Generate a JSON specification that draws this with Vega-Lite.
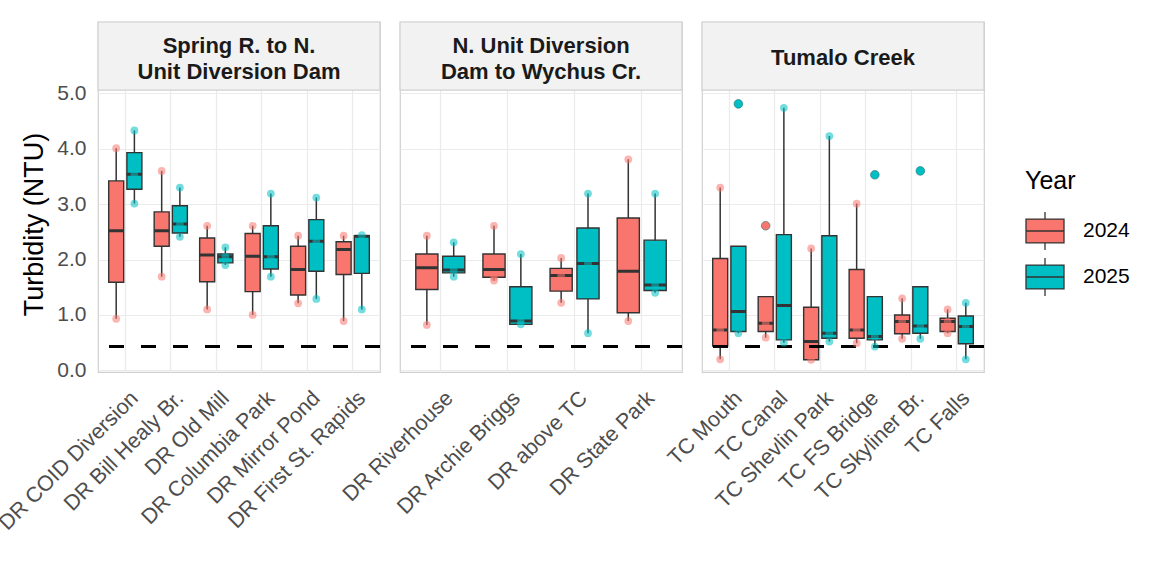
{
  "$schema": "https://vega.github.io/schema/vega-lite/v6.json",
  "padding": {"left": -6, "top": 20, "right": 5, "bottom": 5},
  "background": "white",
  "bounds": "flush",
  "data": {"values": [
    {"t":"box","Reach":"Spring R. to N.\nUnit Diversion Dam","Site":"DR COID Diversion","Year":"2024","lo":0.93,"q1":1.59,"med":2.52,"q3":3.42,"hi":4.01},
    {"t":"box","Reach":"Spring R. to N.\nUnit Diversion Dam","Site":"DR COID Diversion","Year":"2025","lo":3.01,"q1":3.27,"med":3.54,"q3":3.93,"hi":4.33},
    {"t":"box","Reach":"Spring R. to N.\nUnit Diversion Dam","Site":"DR Bill Healy Br.","Year":"2024","lo":1.69,"q1":2.24,"med":2.52,"q3":2.86,"hi":3.60},
    {"t":"box","Reach":"Spring R. to N.\nUnit Diversion Dam","Site":"DR Bill Healy Br.","Year":"2025","lo":2.41,"q1":2.48,"med":2.64,"q3":2.97,"hi":3.30},
    {"t":"box","Reach":"Spring R. to N.\nUnit Diversion Dam","Site":"DR Old Mill","Year":"2024","lo":1.10,"q1":1.60,"med":2.08,"q3":2.39,"hi":2.61},
    {"t":"box","Reach":"Spring R. to N.\nUnit Diversion Dam","Site":"DR Old Mill","Year":"2025","lo":1.90,"q1":1.94,"med":2.05,"q3":2.10,"hi":2.22},
    {"t":"box","Reach":"Spring R. to N.\nUnit Diversion Dam","Site":"DR Columbia Park","Year":"2024","lo":1.00,"q1":1.42,"med":2.06,"q3":2.47,"hi":2.61},
    {"t":"box","Reach":"Spring R. to N.\nUnit Diversion Dam","Site":"DR Columbia Park","Year":"2025","lo":1.69,"q1":1.83,"med":2.05,"q3":2.61,"hi":3.19},
    {"t":"box","Reach":"Spring R. to N.\nUnit Diversion Dam","Site":"DR Mirror Pond","Year":"2024","lo":1.21,"q1":1.36,"med":1.82,"q3":2.24,"hi":2.43},
    {"t":"box","Reach":"Spring R. to N.\nUnit Diversion Dam","Site":"DR Mirror Pond","Year":"2025","lo":1.29,"q1":1.79,"med":2.33,"q3":2.72,"hi":3.12},
    {"t":"box","Reach":"Spring R. to N.\nUnit Diversion Dam","Site":"DR First St. Rapids","Year":"2024","lo":0.89,"q1":1.73,"med":2.18,"q3":2.32,"hi":2.43},
    {"t":"box","Reach":"Spring R. to N.\nUnit Diversion Dam","Site":"DR First St. Rapids","Year":"2025","lo":1.10,"q1":1.75,"med":2.42,"q3":2.43,"hi":2.44},
    {"t":"box","Reach":"N. Unit Diversion\nDam to Wychus Cr.","Site":"DR Riverhouse","Year":"2024","lo":0.82,"q1":1.46,"med":1.85,"q3":2.10,"hi":2.43},
    {"t":"box","Reach":"N. Unit Diversion\nDam to Wychus Cr.","Site":"DR Riverhouse","Year":"2025","lo":1.69,"q1":1.76,"med":1.81,"q3":2.06,"hi":2.31},
    {"t":"box","Reach":"N. Unit Diversion\nDam to Wychus Cr.","Site":"DR Archie Briggs","Year":"2024","lo":1.62,"q1":1.68,"med":1.82,"q3":2.10,"hi":2.61},
    {"t":"box","Reach":"N. Unit Diversion\nDam to Wychus Cr.","Site":"DR Archie Briggs","Year":"2025","lo":0.83,"q1":0.83,"med":0.89,"q3":1.51,"hi":2.10},
    {"t":"box","Reach":"N. Unit Diversion\nDam to Wychus Cr.","Site":"DR above TC","Year":"2024","lo":1.22,"q1":1.43,"med":1.71,"q3":1.84,"hi":2.03},
    {"t":"box","Reach":"N. Unit Diversion\nDam to Wychus Cr.","Site":"DR above TC","Year":"2025","lo":0.67,"q1":1.29,"med":1.93,"q3":2.57,"hi":3.19},
    {"t":"box","Reach":"N. Unit Diversion\nDam to Wychus Cr.","Site":"DR State Park","Year":"2024","lo":0.89,"q1":1.04,"med":1.79,"q3":2.75,"hi":3.81},
    {"t":"box","Reach":"N. Unit Diversion\nDam to Wychus Cr.","Site":"DR State Park","Year":"2025","lo":1.40,"q1":1.44,"med":1.54,"q3":2.35,"hi":3.19},
    {"t":"box","Reach":"Tumalo Creek","Site":"TC Mouth","Year":"2024","lo":0.20,"q1":0.44,"med":0.73,"q3":2.02,"hi":3.30},
    {"t":"box","Reach":"Tumalo Creek","Site":"TC Mouth","Year":"2025","lo":0.67,"q1":0.70,"med":1.06,"q3":2.24,"hi":2.24},
    {"t":"box","Reach":"Tumalo Creek","Site":"TC Canal","Year":"2024","lo":0.59,"q1":0.70,"med":0.85,"q3":1.33,"hi":1.33},
    {"t":"box","Reach":"Tumalo Creek","Site":"TC Canal","Year":"2025","lo":0.50,"q1":0.55,"med":1.17,"q3":2.45,"hi":4.74},
    {"t":"box","Reach":"Tumalo Creek","Site":"TC Shevlin Park","Year":"2024","lo":0.19,"q1":0.19,"med":0.52,"q3":1.14,"hi":2.20},
    {"t":"box","Reach":"Tumalo Creek","Site":"TC Shevlin Park","Year":"2025","lo":0.52,"q1":0.58,"med":0.67,"q3":2.43,"hi":4.23},
    {"t":"box","Reach":"Tumalo Creek","Site":"TC FS Bridge","Year":"2024","lo":0.49,"q1":0.58,"med":0.73,"q3":1.82,"hi":3.01},
    {"t":"box","Reach":"Tumalo Creek","Site":"TC FS Bridge","Year":"2025","lo":0.43,"q1":0.55,"med":0.61,"q3":1.33,"hi":1.33},
    {"t":"box","Reach":"Tumalo Creek","Site":"TC Skyliner Br.","Year":"2024","lo":0.57,"q1":0.66,"med":0.88,"q3":1.00,"hi":1.30},
    {"t":"box","Reach":"Tumalo Creek","Site":"TC Skyliner Br.","Year":"2025","lo":0.57,"q1":0.67,"med":0.80,"q3":1.51,"hi":1.51},
    {"t":"box","Reach":"Tumalo Creek","Site":"TC Falls","Year":"2024","lo":0.67,"q1":0.70,"med":0.88,"q3":0.94,"hi":1.10},
    {"t":"box","Reach":"Tumalo Creek","Site":"TC Falls","Year":"2025","lo":0.20,"q1":0.48,"med":0.79,"q3":0.98,"hi":1.22},

    {"t":"pt","Reach":"Spring R. to N.\nUnit Diversion Dam","Site":"DR COID Diversion","Year":"2024","Turbidity":4.01,"out":0},
    {"t":"pt","Reach":"Spring R. to N.\nUnit Diversion Dam","Site":"DR COID Diversion","Year":"2024","Turbidity":0.93,"out":0},
    {"t":"pt","Reach":"Spring R. to N.\nUnit Diversion Dam","Site":"DR COID Diversion","Year":"2025","Turbidity":4.33,"out":0},
    {"t":"pt","Reach":"Spring R. to N.\nUnit Diversion Dam","Site":"DR COID Diversion","Year":"2025","Turbidity":3.01,"out":0},
    {"t":"pt","Reach":"Spring R. to N.\nUnit Diversion Dam","Site":"DR COID Diversion","Year":"2025","Turbidity":3.54,"out":0},
    {"t":"pt","Reach":"Spring R. to N.\nUnit Diversion Dam","Site":"DR Bill Healy Br.","Year":"2024","Turbidity":3.60,"out":0},
    {"t":"pt","Reach":"Spring R. to N.\nUnit Diversion Dam","Site":"DR Bill Healy Br.","Year":"2024","Turbidity":1.69,"out":0},
    {"t":"pt","Reach":"Spring R. to N.\nUnit Diversion Dam","Site":"DR Bill Healy Br.","Year":"2025","Turbidity":3.30,"out":0},
    {"t":"pt","Reach":"Spring R. to N.\nUnit Diversion Dam","Site":"DR Bill Healy Br.","Year":"2025","Turbidity":2.41,"out":0},
    {"t":"pt","Reach":"Spring R. to N.\nUnit Diversion Dam","Site":"DR Bill Healy Br.","Year":"2025","Turbidity":2.64,"out":0},
    {"t":"pt","Reach":"Spring R. to N.\nUnit Diversion Dam","Site":"DR Old Mill","Year":"2024","Turbidity":2.61,"out":0},
    {"t":"pt","Reach":"Spring R. to N.\nUnit Diversion Dam","Site":"DR Old Mill","Year":"2024","Turbidity":1.10,"out":0},
    {"t":"pt","Reach":"Spring R. to N.\nUnit Diversion Dam","Site":"DR Old Mill","Year":"2025","Turbidity":2.22,"out":0},
    {"t":"pt","Reach":"Spring R. to N.\nUnit Diversion Dam","Site":"DR Old Mill","Year":"2025","Turbidity":1.90,"out":0},
    {"t":"pt","Reach":"Spring R. to N.\nUnit Diversion Dam","Site":"DR Old Mill","Year":"2025","Turbidity":2.05,"out":0},
    {"t":"pt","Reach":"Spring R. to N.\nUnit Diversion Dam","Site":"DR Columbia Park","Year":"2024","Turbidity":2.61,"out":0},
    {"t":"pt","Reach":"Spring R. to N.\nUnit Diversion Dam","Site":"DR Columbia Park","Year":"2024","Turbidity":1.00,"out":0},
    {"t":"pt","Reach":"Spring R. to N.\nUnit Diversion Dam","Site":"DR Columbia Park","Year":"2025","Turbidity":3.19,"out":0},
    {"t":"pt","Reach":"Spring R. to N.\nUnit Diversion Dam","Site":"DR Columbia Park","Year":"2025","Turbidity":1.69,"out":0},
    {"t":"pt","Reach":"Spring R. to N.\nUnit Diversion Dam","Site":"DR Columbia Park","Year":"2025","Turbidity":2.05,"out":0},
    {"t":"pt","Reach":"Spring R. to N.\nUnit Diversion Dam","Site":"DR Mirror Pond","Year":"2024","Turbidity":2.43,"out":0},
    {"t":"pt","Reach":"Spring R. to N.\nUnit Diversion Dam","Site":"DR Mirror Pond","Year":"2024","Turbidity":1.21,"out":0},
    {"t":"pt","Reach":"Spring R. to N.\nUnit Diversion Dam","Site":"DR Mirror Pond","Year":"2025","Turbidity":3.12,"out":0},
    {"t":"pt","Reach":"Spring R. to N.\nUnit Diversion Dam","Site":"DR Mirror Pond","Year":"2025","Turbidity":1.29,"out":0},
    {"t":"pt","Reach":"Spring R. to N.\nUnit Diversion Dam","Site":"DR Mirror Pond","Year":"2025","Turbidity":2.33,"out":0},
    {"t":"pt","Reach":"Spring R. to N.\nUnit Diversion Dam","Site":"DR First St. Rapids","Year":"2024","Turbidity":2.43,"out":0},
    {"t":"pt","Reach":"Spring R. to N.\nUnit Diversion Dam","Site":"DR First St. Rapids","Year":"2024","Turbidity":0.89,"out":0},
    {"t":"pt","Reach":"Spring R. to N.\nUnit Diversion Dam","Site":"DR First St. Rapids","Year":"2025","Turbidity":2.44,"out":0},
    {"t":"pt","Reach":"Spring R. to N.\nUnit Diversion Dam","Site":"DR First St. Rapids","Year":"2025","Turbidity":1.10,"out":0},
    {"t":"pt","Reach":"N. Unit Diversion\nDam to Wychus Cr.","Site":"DR Riverhouse","Year":"2024","Turbidity":2.43,"out":0},
    {"t":"pt","Reach":"N. Unit Diversion\nDam to Wychus Cr.","Site":"DR Riverhouse","Year":"2024","Turbidity":0.82,"out":0},
    {"t":"pt","Reach":"N. Unit Diversion\nDam to Wychus Cr.","Site":"DR Riverhouse","Year":"2025","Turbidity":2.31,"out":0},
    {"t":"pt","Reach":"N. Unit Diversion\nDam to Wychus Cr.","Site":"DR Riverhouse","Year":"2025","Turbidity":1.69,"out":0},
    {"t":"pt","Reach":"N. Unit Diversion\nDam to Wychus Cr.","Site":"DR Riverhouse","Year":"2025","Turbidity":1.81,"out":0},
    {"t":"pt","Reach":"N. Unit Diversion\nDam to Wychus Cr.","Site":"DR Archie Briggs","Year":"2024","Turbidity":2.61,"out":0},
    {"t":"pt","Reach":"N. Unit Diversion\nDam to Wychus Cr.","Site":"DR Archie Briggs","Year":"2024","Turbidity":1.62,"out":0},
    {"t":"pt","Reach":"N. Unit Diversion\nDam to Wychus Cr.","Site":"DR Archie Briggs","Year":"2024","Turbidity":1.68,"out":0},
    {"t":"pt","Reach":"N. Unit Diversion\nDam to Wychus Cr.","Site":"DR Archie Briggs","Year":"2025","Turbidity":2.10,"out":0},
    {"t":"pt","Reach":"N. Unit Diversion\nDam to Wychus Cr.","Site":"DR Archie Briggs","Year":"2025","Turbidity":0.83,"out":0},
    {"t":"pt","Reach":"N. Unit Diversion\nDam to Wychus Cr.","Site":"DR Archie Briggs","Year":"2025","Turbidity":0.89,"out":0},
    {"t":"pt","Reach":"N. Unit Diversion\nDam to Wychus Cr.","Site":"DR above TC","Year":"2024","Turbidity":2.03,"out":0},
    {"t":"pt","Reach":"N. Unit Diversion\nDam to Wychus Cr.","Site":"DR above TC","Year":"2024","Turbidity":1.22,"out":0},
    {"t":"pt","Reach":"N. Unit Diversion\nDam to Wychus Cr.","Site":"DR above TC","Year":"2024","Turbidity":1.71,"out":0},
    {"t":"pt","Reach":"N. Unit Diversion\nDam to Wychus Cr.","Site":"DR above TC","Year":"2025","Turbidity":3.19,"out":0},
    {"t":"pt","Reach":"N. Unit Diversion\nDam to Wychus Cr.","Site":"DR above TC","Year":"2025","Turbidity":0.67,"out":0},
    {"t":"pt","Reach":"N. Unit Diversion\nDam to Wychus Cr.","Site":"DR above TC","Year":"2025","Turbidity":1.93,"out":0},
    {"t":"pt","Reach":"N. Unit Diversion\nDam to Wychus Cr.","Site":"DR State Park","Year":"2024","Turbidity":3.81,"out":0},
    {"t":"pt","Reach":"N. Unit Diversion\nDam to Wychus Cr.","Site":"DR State Park","Year":"2024","Turbidity":0.89,"out":0},
    {"t":"pt","Reach":"N. Unit Diversion\nDam to Wychus Cr.","Site":"DR State Park","Year":"2025","Turbidity":3.19,"out":0},
    {"t":"pt","Reach":"N. Unit Diversion\nDam to Wychus Cr.","Site":"DR State Park","Year":"2025","Turbidity":1.40,"out":0},
    {"t":"pt","Reach":"N. Unit Diversion\nDam to Wychus Cr.","Site":"DR State Park","Year":"2025","Turbidity":1.54,"out":0},
    {"t":"pt","Reach":"Tumalo Creek","Site":"TC Mouth","Year":"2024","Turbidity":3.30,"out":0},
    {"t":"pt","Reach":"Tumalo Creek","Site":"TC Mouth","Year":"2024","Turbidity":0.20,"out":0},
    {"t":"pt","Reach":"Tumalo Creek","Site":"TC Mouth","Year":"2024","Turbidity":0.73,"out":0},
    {"t":"pt","Reach":"Tumalo Creek","Site":"TC Mouth","Year":"2025","Turbidity":0.67,"out":0},
    {"t":"pt","Reach":"Tumalo Creek","Site":"TC Mouth","Year":"2025","Turbidity":4.81,"out":1},
    {"t":"pt","Reach":"Tumalo Creek","Site":"TC Canal","Year":"2024","Turbidity":0.59,"out":0},
    {"t":"pt","Reach":"Tumalo Creek","Site":"TC Canal","Year":"2024","Turbidity":0.85,"out":0},
    {"t":"pt","Reach":"Tumalo Creek","Site":"TC Canal","Year":"2024","Turbidity":2.61,"out":1},
    {"t":"pt","Reach":"Tumalo Creek","Site":"TC Canal","Year":"2025","Turbidity":4.74,"out":0},
    {"t":"pt","Reach":"Tumalo Creek","Site":"TC Canal","Year":"2025","Turbidity":0.50,"out":0},
    {"t":"pt","Reach":"Tumalo Creek","Site":"TC Shevlin Park","Year":"2024","Turbidity":2.20,"out":0},
    {"t":"pt","Reach":"Tumalo Creek","Site":"TC Shevlin Park","Year":"2024","Turbidity":0.19,"out":0},
    {"t":"pt","Reach":"Tumalo Creek","Site":"TC Shevlin Park","Year":"2025","Turbidity":4.23,"out":0},
    {"t":"pt","Reach":"Tumalo Creek","Site":"TC Shevlin Park","Year":"2025","Turbidity":0.52,"out":0},
    {"t":"pt","Reach":"Tumalo Creek","Site":"TC Shevlin Park","Year":"2025","Turbidity":0.67,"out":0},
    {"t":"pt","Reach":"Tumalo Creek","Site":"TC FS Bridge","Year":"2024","Turbidity":3.01,"out":0},
    {"t":"pt","Reach":"Tumalo Creek","Site":"TC FS Bridge","Year":"2024","Turbidity":0.49,"out":0},
    {"t":"pt","Reach":"Tumalo Creek","Site":"TC FS Bridge","Year":"2024","Turbidity":0.73,"out":0},
    {"t":"pt","Reach":"Tumalo Creek","Site":"TC FS Bridge","Year":"2025","Turbidity":0.43,"out":0},
    {"t":"pt","Reach":"Tumalo Creek","Site":"TC FS Bridge","Year":"2025","Turbidity":0.61,"out":0},
    {"t":"pt","Reach":"Tumalo Creek","Site":"TC FS Bridge","Year":"2025","Turbidity":3.53,"out":1},
    {"t":"pt","Reach":"Tumalo Creek","Site":"TC Skyliner Br.","Year":"2024","Turbidity":1.30,"out":0},
    {"t":"pt","Reach":"Tumalo Creek","Site":"TC Skyliner Br.","Year":"2024","Turbidity":0.57,"out":0},
    {"t":"pt","Reach":"Tumalo Creek","Site":"TC Skyliner Br.","Year":"2024","Turbidity":0.88,"out":0},
    {"t":"pt","Reach":"Tumalo Creek","Site":"TC Skyliner Br.","Year":"2025","Turbidity":0.57,"out":0},
    {"t":"pt","Reach":"Tumalo Creek","Site":"TC Skyliner Br.","Year":"2025","Turbidity":0.80,"out":0},
    {"t":"pt","Reach":"Tumalo Creek","Site":"TC Skyliner Br.","Year":"2025","Turbidity":3.60,"out":1},
    {"t":"pt","Reach":"Tumalo Creek","Site":"TC Falls","Year":"2024","Turbidity":1.10,"out":0},
    {"t":"pt","Reach":"Tumalo Creek","Site":"TC Falls","Year":"2024","Turbidity":0.67,"out":0},
    {"t":"pt","Reach":"Tumalo Creek","Site":"TC Falls","Year":"2024","Turbidity":0.88,"out":0},
    {"t":"pt","Reach":"Tumalo Creek","Site":"TC Falls","Year":"2025","Turbidity":1.22,"out":0},
    {"t":"pt","Reach":"Tumalo Creek","Site":"TC Falls","Year":"2025","Turbidity":0.20,"out":0},
    {"t":"pt","Reach":"Tumalo Creek","Site":"TC Falls","Year":"2025","Turbidity":0.79,"out":0}
  ]},
  "facet": {
    "column": {
      "field": "Reach", "type": "nominal",
      "sort": ["Spring R. to N.\nUnit Diversion Dam", "N. Unit Diversion\nDam to Wychus Cr.", "Tumalo Creek"],
      "header": {"labels": false, "title": null},
      "title": null
    }
  },
  "spacing": 20,
  "resolve": {"scale": {"x": "independent", "xOffset": "independent"}},
  "spec": {
    "width": 282,
    "height": 350,
    "layer": [
      {
        "transform": [{"filter": "datum.t === 'box'"}, {"aggregate": [{"op": "count", "as": "n"}], "groupby": ["Reach"]}],
        "mark": {"type": "rect", "fill": "#F2F2F2", "stroke": "#D0D0D0", "strokeWidth": 1.2},
        "encoding": {
          "y": {"datum": 5.06, "type": "quantitative", "scale": {"domain": [-0.03, 6.288], "nice": false, "zero": false}, "title": "Turbidity (NTU)", "axis": {"values": [0, 1, 2, 3, 4, 5]}},
          "y2": {"datum": 6.288}
        }
      },
      {
        "transform": [{"filter": "datum.t === 'box' && indexof(datum.Reach, '\\n') >= 0"}, {"aggregate": [{"op": "count", "as": "n"}], "groupby": ["Reach"]}],
        "mark": {"type": "text", "lineBreak": "\n", "fontSize": 22, "fontWeight": "bold", "color": "#1A1A1A", "baseline": "middle", "lineHeight": 26, "font": "Liberation Sans"},
        "encoding": {
          "y": {"datum": 5.86, "type": "quantitative", "scale": {"domain": [-0.03, 6.288], "nice": false, "zero": false}, "title": "Turbidity (NTU)", "axis": {"values": [0, 1, 2, 3, 4, 5]}},
          "text": {"field": "Reach", "type": "nominal"}
        }
      },
      {
        "transform": [{"filter": "datum.t === 'box' && indexof(datum.Reach, '\\n') < 0"}, {"aggregate": [{"op": "count", "as": "n"}], "groupby": ["Reach"]}],
        "mark": {"type": "text", "fontSize": 22, "fontWeight": "bold", "color": "#1A1A1A", "baseline": "middle", "font": "Liberation Sans"},
        "encoding": {
          "y": {"datum": 5.64, "type": "quantitative", "scale": {"domain": [-0.03, 6.288], "nice": false, "zero": false}, "title": "Turbidity (NTU)", "axis": {"values": [0, 1, 2, 3, 4, 5]}},
          "text": {"field": "Reach", "type": "nominal"}
        }
      },
      {
        "transform": [{"filter": "datum.t === 'box'"}],
        "mark": {"type": "rule", "color": "#333333", "strokeWidth": 1.5},
        "encoding": {
          "x": {"field": "Site", "type": "nominal", "title": null,
                "sort": ["DR COID Diversion","DR Bill Healy Br.","DR Old Mill","DR Columbia Park","DR Mirror Pond","DR First St. Rapids","DR Riverhouse","DR Archie Briggs","DR above TC","DR State Park","TC Mouth","TC Canal","TC Shevlin Park","TC FS Bridge","TC Skyliner Br.","TC Falls"],
                "scale": {"paddingInner": 0, "paddingOuter": 0.1}},
          "xOffset": {"field": "Year", "type": "nominal", "scale": {"paddingInner": 0.175, "paddingOuter": 0.3375}},
          "y": {"field": "lo", "type": "quantitative", "scale": {"domain": [-0.03, 6.288], "nice": false, "zero": false}, "title": "Turbidity (NTU)", "axis": {"values": [0, 1, 2, 3, 4, 5]}},
          "y2": {"field": "hi"}
        }
      },
      {
        "transform": [{"filter": "datum.t === 'box'"}],
        "mark": {"type": "bar", "stroke": "#333333", "strokeWidth": 1.4},
        "encoding": {
          "x": {"field": "Site", "type": "nominal", "title": null,
                "sort": ["DR COID Diversion","DR Bill Healy Br.","DR Old Mill","DR Columbia Park","DR Mirror Pond","DR First St. Rapids","DR Riverhouse","DR Archie Briggs","DR above TC","DR State Park","TC Mouth","TC Canal","TC Shevlin Park","TC FS Bridge","TC Skyliner Br.","TC Falls"],
                "scale": {"paddingInner": 0, "paddingOuter": 0.1}},
          "xOffset": {"field": "Year", "type": "nominal", "scale": {"paddingInner": 0.175, "paddingOuter": 0.3375}},
          "y": {"field": "q1", "type": "quantitative", "scale": {"domain": [-0.03, 6.288], "nice": false, "zero": false}, "title": "Turbidity (NTU)", "axis": {"values": [0, 1, 2, 3, 4, 5]}},
          "y2": {"field": "q3"},
          "color": {"field": "Year", "type": "nominal", "scale": {"domain": ["2024", "2025"], "range": ["#F8766D", "#00BFC4"]}, "title": "Year",
                    "legend": {"orient": "none", "legendX": 927, "legendY": 147, "symbolType": "M-1,-0.63H1V0.63H-1Z M-1,0H1 M0,-0.63V-1 M0,0.63V1", "symbolSize": 1444, "symbolStrokeColor": "#333333", "symbolStrokeWidth": 1.3, "symbolOpacity": 1}}
        }
      },
      {
        "transform": [{"filter": "datum.t === 'box'"}],
        "mark": {"type": "bar", "stroke": "#333333", "strokeWidth": 3, "fill": "#333333"},
        "encoding": {
          "x": {"field": "Site", "type": "nominal", "title": null,
                "sort": ["DR COID Diversion","DR Bill Healy Br.","DR Old Mill","DR Columbia Park","DR Mirror Pond","DR First St. Rapids","DR Riverhouse","DR Archie Briggs","DR above TC","DR State Park","TC Mouth","TC Canal","TC Shevlin Park","TC FS Bridge","TC Skyliner Br.","TC Falls"],
                "scale": {"paddingInner": 0, "paddingOuter": 0.1}},
          "xOffset": {"field": "Year", "type": "nominal", "scale": {"paddingInner": 0.175, "paddingOuter": 0.3375}},
          "y": {"field": "med", "type": "quantitative", "scale": {"domain": [-0.03, 6.288], "nice": false, "zero": false}, "title": "Turbidity (NTU)", "axis": {"values": [0, 1, 2, 3, 4, 5]}},
          "y2": {"field": "med"}
        }
      },
      {
        "transform": [{"filter": "datum.t === 'box'"}, {"aggregate": [{"op": "count", "as": "n"}], "groupby": ["Reach"]}],
        "mark": {"type": "rule", "color": "#000000", "strokeWidth": 3, "strokeDash": [15, 17]},
        "encoding": {
          "y": {"datum": 0.43, "type": "quantitative", "scale": {"domain": [-0.03, 6.288], "nice": false, "zero": false}, "title": "Turbidity (NTU)", "axis": {"values": [0, 1, 2, 3, 4, 5]}}
        }
      },
      {
        "transform": [{"filter": "datum.t === 'pt' && datum.out === 0"}],
        "mark": {"type": "circle", "size": 60, "opacity": 0.55},
        "encoding": {
          "x": {"field": "Site", "type": "nominal", "title": null,
                "sort": ["DR COID Diversion","DR Bill Healy Br.","DR Old Mill","DR Columbia Park","DR Mirror Pond","DR First St. Rapids","DR Riverhouse","DR Archie Briggs","DR above TC","DR State Park","TC Mouth","TC Canal","TC Shevlin Park","TC FS Bridge","TC Skyliner Br.","TC Falls"],
                "scale": {"paddingInner": 0, "paddingOuter": 0.1}},
          "xOffset": {"field": "Year", "type": "nominal", "scale": {"paddingInner": 0.175, "paddingOuter": 0.3375}},
          "y": {"field": "Turbidity", "type": "quantitative", "scale": {"domain": [-0.03, 6.288], "nice": false, "zero": false}, "title": "Turbidity (NTU)", "axis": {"values": [0, 1, 2, 3, 4, 5]}},
          "color": {"field": "Year", "type": "nominal", "scale": {"domain": ["2024", "2025"], "range": ["#F8766D", "#00BFC4"]}, "title": "Year",
                    "legend": {"orient": "none", "legendX": 927, "legendY": 147, "symbolType": "M-1,-0.63H1V0.63H-1Z M-1,0H1 M0,-0.63V-1 M0,0.63V1", "symbolSize": 1444, "symbolStrokeColor": "#333333", "symbolStrokeWidth": 1.3, "symbolOpacity": 1}}
        }
      },
      {
        "transform": [{"filter": "datum.t === 'pt' && datum.out === 1"}],
        "mark": {"type": "circle", "size": 75, "opacity": 1, "stroke": "#2A6E70", "strokeWidth": 1, "strokeOpacity": 0.6},
        "encoding": {
          "x": {"field": "Site", "type": "nominal", "title": null,
                "sort": ["DR COID Diversion","DR Bill Healy Br.","DR Old Mill","DR Columbia Park","DR Mirror Pond","DR First St. Rapids","DR Riverhouse","DR Archie Briggs","DR above TC","DR State Park","TC Mouth","TC Canal","TC Shevlin Park","TC FS Bridge","TC Skyliner Br.","TC Falls"],
                "scale": {"paddingInner": 0, "paddingOuter": 0.1}},
          "xOffset": {"field": "Year", "type": "nominal", "scale": {"paddingInner": 0.175, "paddingOuter": 0.3375}},
          "y": {"field": "Turbidity", "type": "quantitative", "scale": {"domain": [-0.03, 6.288], "nice": false, "zero": false}, "title": "Turbidity (NTU)", "axis": {"values": [0, 1, 2, 3, 4, 5]}},
          "color": {"field": "Year", "type": "nominal", "scale": {"domain": ["2024", "2025"], "range": ["#F8766D", "#00BFC4"]}, "title": "Year",
                    "legend": {"orient": "none", "legendX": 927, "legendY": 147, "symbolType": "M-1,-0.63H1V0.63H-1Z M-1,0H1 M0,-0.63V-1 M0,0.63V1", "symbolSize": 1444, "symbolStrokeColor": "#333333", "symbolStrokeWidth": 1.3, "symbolOpacity": 1}}
        }
      }
    ]
  },
  "config": {
    "font": "Liberation Sans",
    "view": {"stroke": "#D0D0D0", "strokeWidth": 1.2},
    "axis": {
      "gridColor": "#EBEBEB", "gridWidth": 1.2, "domain": false, "ticks": false,
      "labelColor": "#4D4D4D", "labelFont": "Liberation Sans", "titleFont": "Liberation Sans",
      "titleColor": "#000000", "titleFontWeight": "normal"
    },
    "axisY": {
      "format": ".1f", "labelFontSize": 21, "labelPadding": 12,
      "titleFontSize": 27, "titlePadding": 8, "titleY": 202, "grid": true
    },
    "axisX": {
      "labelAngle": -45, "labelAlign": "right", "labelBaseline": "top", "labelFontSize": 21.5,
      "labelPadding": 15, "labelOffset": 2, "labelLimit": 400, "labelOverlap": false, "labelBound": false,
      "grid": true, "bandPosition": 0.5
    },
    "legend": {
      "titleFontSize": 25, "titleFontWeight": "normal", "titleColor": "#000000", "titlePadding": 17,
      "labelFontSize": 21, "labelColor": "#000000", "labelOffset": 18,
      "rowPadding": 2
    }
  }
}
